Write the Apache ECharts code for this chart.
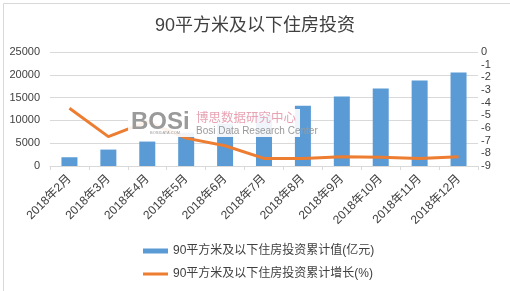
<!DOCTYPE html>
<html>
<head>
<meta charset="utf-8">
<script src="https://cdn.jsdelivr.net/npm/echarts@6/dist/echarts.min.js"></script>
<style>
  html, body { margin: 0; padding: 0; background: #fff; }
  #main { width: 510px; height: 291px; }
</style>
</head>
<body>
<div id="main"></div>
<script>
// 月份
var months = ['2018年2月', '2018年3月', '2018年4月', '2018年5月', '2018年6月', '2018年7月',
  '2018年8月', '2018年9月', '2018年10月', '2018年11月', '2018年12月'];
// 累计值(亿元)
var totalValues = [1920, 3600, 5360, 7300, 9300, 11200, 13240, 15220, 16990, 18750, 20500];
// 累计增长(%)
var growthValues = [-4.44, -6.68, -5.5, -6.8, -7.4, -8.4, -8.4, -8.26, -8.3, -8.4, -8.26];

var barName = '90平方米及以下住房投资累计值(亿元)';
var lineName = '90平方米及以下住房投资累计增长(%)';
var font = 'Liberation Sans, Noto Sans CJK SC, sans-serif';

var chart = echarts.init(document.getElementById('main'));
chart.setOption({
  animation: false,
  backgroundColor: '#fff',
  title: {
    text: '90平方米及以下住房投资',
    left: 'center',
    top: 12,
    textStyle: { fontFamily: font, fontSize: 18, fontWeight: 'normal', color: '#404040' }
  },
  legend: {
    orient: 'vertical',
    left: 138,
    top: 240,
    itemWidth: 25,
    itemHeight: 5,
    itemGap: 11,
    textStyle: { fontFamily: font, fontSize: 12, color: '#404040' },
    data: [
      { name: barName, icon: 'rect' },
      // thin band with tiny corner specks so the bar keeps its 3px thickness
      { name: lineName, icon: 'path://M0,1H25V4H0Z M0,0H0.01V0.01H0Z M24.99,4.99H25V5H24.99Z' }
    ]
  },
  grid: { left: 50, right: 32, top: 52, bottom: 125, containLabel: false },
  xAxis: {
    type: 'category',
    data: months,
    axisLine: { lineStyle: { color: '#d9d9d9' } },
    axisTick: { show: true, length: 4, lineStyle: { color: '#d9d9d9' } },
    axisLabel: { rotate: 45, margin: 11, interval: 0, fontFamily: font, fontSize: 12, color: '#404040' }
  },
  yAxis: [
    {
      type: 'value',
      min: 0,
      max: 25000,
      interval: 5000,
      axisLine: { show: false },
      axisTick: { show: false },
      axisLabel: {
        margin: 10, fontFamily: font, fontSize: 11, color: '#404040',
        formatter: function(v) { return String(v); }
      },
      splitLine: { lineStyle: { color: '#d9d9d9' } }
    },
    {
      type: 'value',
      min: -9,
      max: 0,
      interval: 1,
      position: 'right',
      axisLine: { show: false },
      axisTick: { show: false },
      axisLabel: { margin: 3, fontFamily: font, fontSize: 11, color: '#404040' },
      splitLine: { show: false }
    }
  ],
  series: [
    {
      name: barName,
      type: 'bar',
      data: totalValues,
      barWidth: 16,
      itemStyle: { color: '#5b9bd5' }
    },
    {
      name: lineName,
      type: 'line',
      yAxisIndex: 1,
      data: growthValues,
      symbol: 'none',
      lineStyle: { color: '#ed7d31', width: 3 },
      itemStyle: { color: '#ed7d31' }
    }
  ],
  graphic: [
    {
      type: 'rect',
      left: 1, top: 1, z: 100,
      shape: { width: 507, height: 288 },
      style: { fill: 'none', stroke: '#d9d9d9', lineWidth: 1 }
    },
    { type: 'rect', left: 128, top: 109, z: 100, shape: { width: 172, height: 28 }, style: { fill: 'rgba(255,255,255,0.9)' } },
    { type: 'text', left: 131, top: 110, z: 101, style: { text: 'BOSi', font: 'bold 24px Liberation Sans', fill: '#9a9a9a' } },
    { type: 'text', left: 150, top: 131, z: 101, style: { text: 'BOSIDATA.COM', font: '4px Liberation Sans', fill: '#9a9a9a' } },
    { type: 'text', left: 196, top: 111, z: 101, style: { text: '博思数据研究中心', font: '12.5px Noto Sans CJK SC', fill: '#e8a3b3' } },
    { type: 'text', left: 196, top: 126, z: 101, style: { text: 'Bosi Data Research Center', font: '10px Liberation Sans', fill: '#9a9a9a' } }
  ]
});
</script>
</body>
</html>
